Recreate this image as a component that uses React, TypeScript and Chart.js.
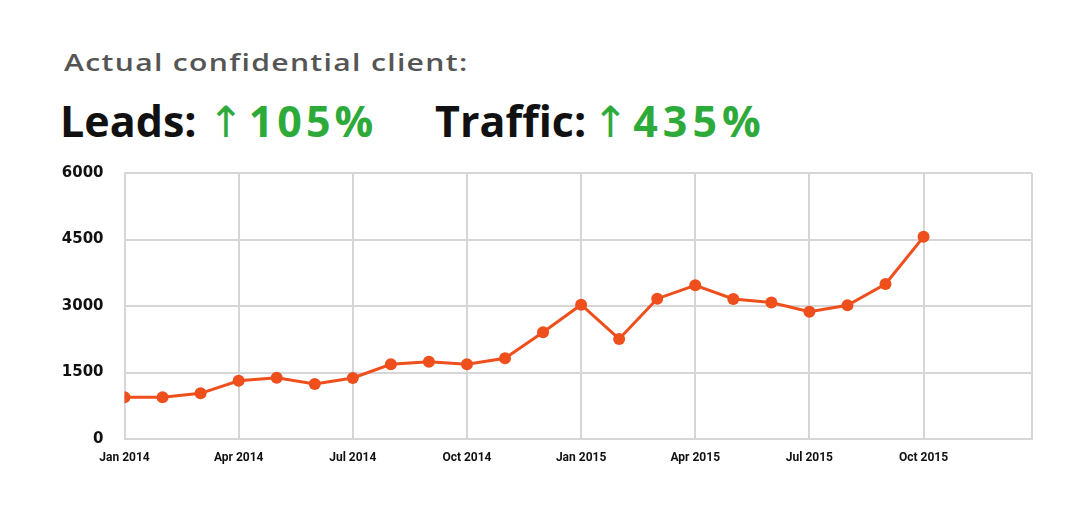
import React, { useEffect, useRef } from "react";
import { Chart, registerables } from "chart.js";

Chart.register(...registerables);

const months = [
  "Jan 2014", "Feb 2014", "Mar 2014", "Apr 2014", "May 2014", "Jun 2014",
  "Jul 2014", "Aug 2014", "Sep 2014", "Oct 2014", "Nov 2014", "Dec 2014",
  "Jan 2015", "Feb 2015", "Mar 2015", "Apr 2015", "May 2015", "Jun 2015",
  "Jul 2015", "Aug 2015", "Sep 2015", "Oct 2015",
];
const values = [
  940, 940, 1030, 1315, 1383, 1240, 1376, 1685, 1745, 1685, 1820, 2410,
  3030, 2256, 3165, 3467, 3158, 3080, 2872, 3015, 3497, 4560,
];
const xTickLabels = [
  "Jan 2014", "Apr 2014", "Jul 2014", "Oct 2014",
  "Jan 2015", "Apr 2015", "Jul 2015", "Oct 2015",
];
const yTicks = [0, 1500, 3000, 4500, 6000];
const xMaxMonths = 23.85;

const LINE = "#ee4f1c";
const GRID = "#d6d6d6";
const GREEN = "#2eaa3b";

export default function App() {
  const ref = useRef<HTMLCanvasElement | null>(null);

  useEffect(() => {
    if (!ref.current) return;
    const tickPos = xTickLabels.map((l) => months.indexOf(l));
    const chart = new Chart(ref.current, {
      type: "line",
      data: {
        datasets: [
          {
            data: values.map((v, i) => ({ x: i, y: v })),
            borderColor: LINE,
            backgroundColor: LINE,
            borderWidth: 3,
            pointRadius: 6,
            pointBorderWidth: 0,
            pointBackgroundColor: LINE,
            tension: 0,
          },
        ],
      },
      options: {
        animation: false,
        responsive: true,
        maintainAspectRatio: false,
        layout: { padding: { top: 0, right: 54, left: 0, bottom: 0 } },
        plugins: { legend: { display: false }, tooltip: { enabled: false } },
        scales: {
          x: {
            type: "linear",
            min: 0,
            max: xMaxMonths,
            afterBuildTicks: (s: any) => {
              s.ticks = [...tickPos, xMaxMonths].map((v) => ({ value: v }));
            },
            afterFit: (s: any) => {
              s.height = 84;
            },
            grid: { color: GRID, lineWidth: 2, drawTicks: false },
            border: { display: true, color: GRID, width: 2 },
            ticks: {
              autoSkip: false,
              maxRotation: 0,
              padding: 12,
              color: "#111",
              font: { family: "Roboto", size: 12, weight: "bold" },
              callback: (v: any) => {
                const i = tickPos.indexOf(Number(v));
                return i >= 0 ? xTickLabels[i] : "";
              },
            },
          },
          y: {
            min: 0,
            max: 6000,
            afterBuildTicks: (s: any) => {
              s.ticks = yTicks.map((v) => ({ value: v }));
            },
            afterFit: (s: any) => {
              s.width = 124.5;
            },
            grid: { color: GRID, lineWidth: 2, drawTicks: false },
            border: { display: true, color: GRID, width: 2 },
            ticks: {
              padding: 21,
              color: "#111",
              font: { family: "DejaVu Sans", size: 15, weight: "bold" },
              callback: (v: any) => String(v),
            },
          },
        },
      },
    });
    return () => chart.destroy();
  }, []);

  const base: React.CSSProperties = {
    position: "absolute",
    whiteSpace: "nowrap",
    fontFamily: "'Open Sans', sans-serif",
  };
  const arrow: React.CSSProperties = {
    color: GREEN,
    fontFamily: "'DejaVu Sans'",
    fontWeight: 400,
  };
  const pct: React.CSSProperties = {
    color: GREEN,
    letterSpacing: 4,
    marginLeft: 5,
  };

  return (
    <div
      style={{
        position: "fixed",
        left: 0,
        top: 0,
        width: 1086,
        height: 523,
        background: "#fff",
        overflow: "hidden",
      }}
    >
      <div
        style={{
          ...base,
          left: 64,
          top: 51,
          fontSize: 23,
          lineHeight: "23px",
          fontWeight: 600,
          color: "#555",
          letterSpacing: 1,
          transform: "scaleX(1.31)",
          transformOrigin: "left top",
        }}
      >
        Actual confidential client:
      </div>
      <div
        style={{
          ...base,
          left: 60,
          top: 99,
          fontSize: 43,
          lineHeight: "43px",
          fontWeight: 700,
          color: "#111",
        }}
      >
        Leads: <span style={arrow}>↑</span>
        <span style={pct}>105%</span>
      </div>
      <div
        style={{
          ...base,
          left: 435,
          top: 99,
          fontSize: 43,
          lineHeight: "43px",
          fontWeight: 700,
          color: "#111",
        }}
      >
        Traffic:<span style={{ ...arrow, marginLeft: 6 }}>↑</span>
        <span style={{ ...pct, letterSpacing: 5 }}>435%</span>
      </div>
      <div style={{ position: "absolute", left: 0, top: 143, width: 1086, height: 380 }}>
        <canvas ref={ref} />
      </div>
    </div>
  );
}
